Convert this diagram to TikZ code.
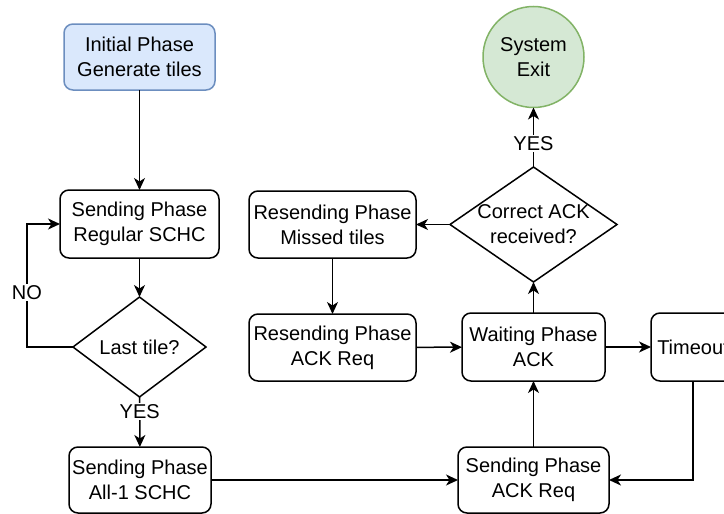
\documentclass[tikz,border=0pt]{standalone}
\usepackage{fontspec}
\setmainfont{Liberation Sans}
\usetikzlibrary{shapes.geometric,arrows.meta}
\definecolor{startfill}{HTML}{DAE8FC}
\definecolor{startline}{HTML}{6C8EBF}
\definecolor{exitfill}{HTML}{D5E8D4}
\definecolor{exitline}{HTML}{82B366}
\begin{document}
\begin{tikzpicture}[x=1pt,y=-1pt,
  every node/.style={font=\fontsize{20}{25}\selectfont, align=center, outer sep=0pt},
  phase/.style={draw, rounded corners=9pt, line width=1.5pt, inner sep=0pt},
  decision/.style={draw, diamond, line width=1.5pt, inner sep=0pt},
  arr/.style={line width=1.5pt, -{Stealth[length=12pt,width=11pt,inset=3.5pt]}},
  tag/.style={fill=white, inner sep=1.5pt}
]
\useasboundingbox (0,0) rectangle (724,514);
\clip (0,0) rectangle (724,514);

% start and end states
\node[phase, fill=startfill, draw=startline, minimum width=151pt, minimum height=66pt]
  (init) at (139.5,57) {Initial Phase\\Generate tiles};
\node[draw=exitline, fill=exitfill, circle, line width=1.5pt, minimum size=101pt, inner sep=0pt]
  (exit) at (533.5,57) {System\\Exit};

% sending branch
\node[phase, minimum width=159pt, minimum height=68pt] (reg) at (139.5,224) {Sending Phase\\Regular SCHC};
\node[decision, minimum width=133pt, minimum height=100pt, label=center:{Last tile?}] (last) at (139.5,347) {};
\node[phase, minimum width=142pt, minimum height=66pt] (all1) at (140,480) {Sending Phase\\All-1 SCHC};
\node[phase, minimum width=151pt, minimum height=66pt] (sendack) at (533.5,480) {Sending Phase\\ACK Req};

% waiting and resending loop
\node[phase, minimum width=143pt, minimum height=68pt] (wait) at (533.5,347) {Waiting Phase\\ACK};
\node[phase, minimum width=84pt, minimum height=68pt] (timeout) at (693,347) {Timeout};
\node[decision, minimum width=167pt, minimum height=115pt, label=center:{Correct ACK\\received?}]
  (correct) at (533.5,224.5) {};
\node[phase, minimum width=167pt, minimum height=67pt] (missed) at (332.5,224.5) {Resending Phase\\Missed tiles};
\node[phase, minimum width=167pt, minimum height=67pt] (resack) at (332.5,347.5) {Resending Phase\\ACK Req};

% connectors
\draw[arr] (init) -- (reg);
\draw[arr] (reg) -- (last);
\draw[arr] (last.west) -- ++(-46,0) |- node[tag, pos=0.22] {NO} (reg.west);
\draw[arr] (last) -- node[tag, pos=0.3] {YES} (all1);
\draw[arr] (all1) -- (sendack);
\draw[arr] (sendack) -- (wait);
\draw[arr] (wait) -- (correct);
\draw[arr] (correct) -- node[tag, pos=0.4] {YES} (exit);
\draw[arr] (correct.west) -- (missed);
\draw[arr] (missed) -- (resack);
\draw[arr] (resack) -- (wait);
\draw[arr] (wait) -- (timeout);
\draw[arr] (timeout.south) |- (sendack.east);
\end{tikzpicture}
\end{document}
